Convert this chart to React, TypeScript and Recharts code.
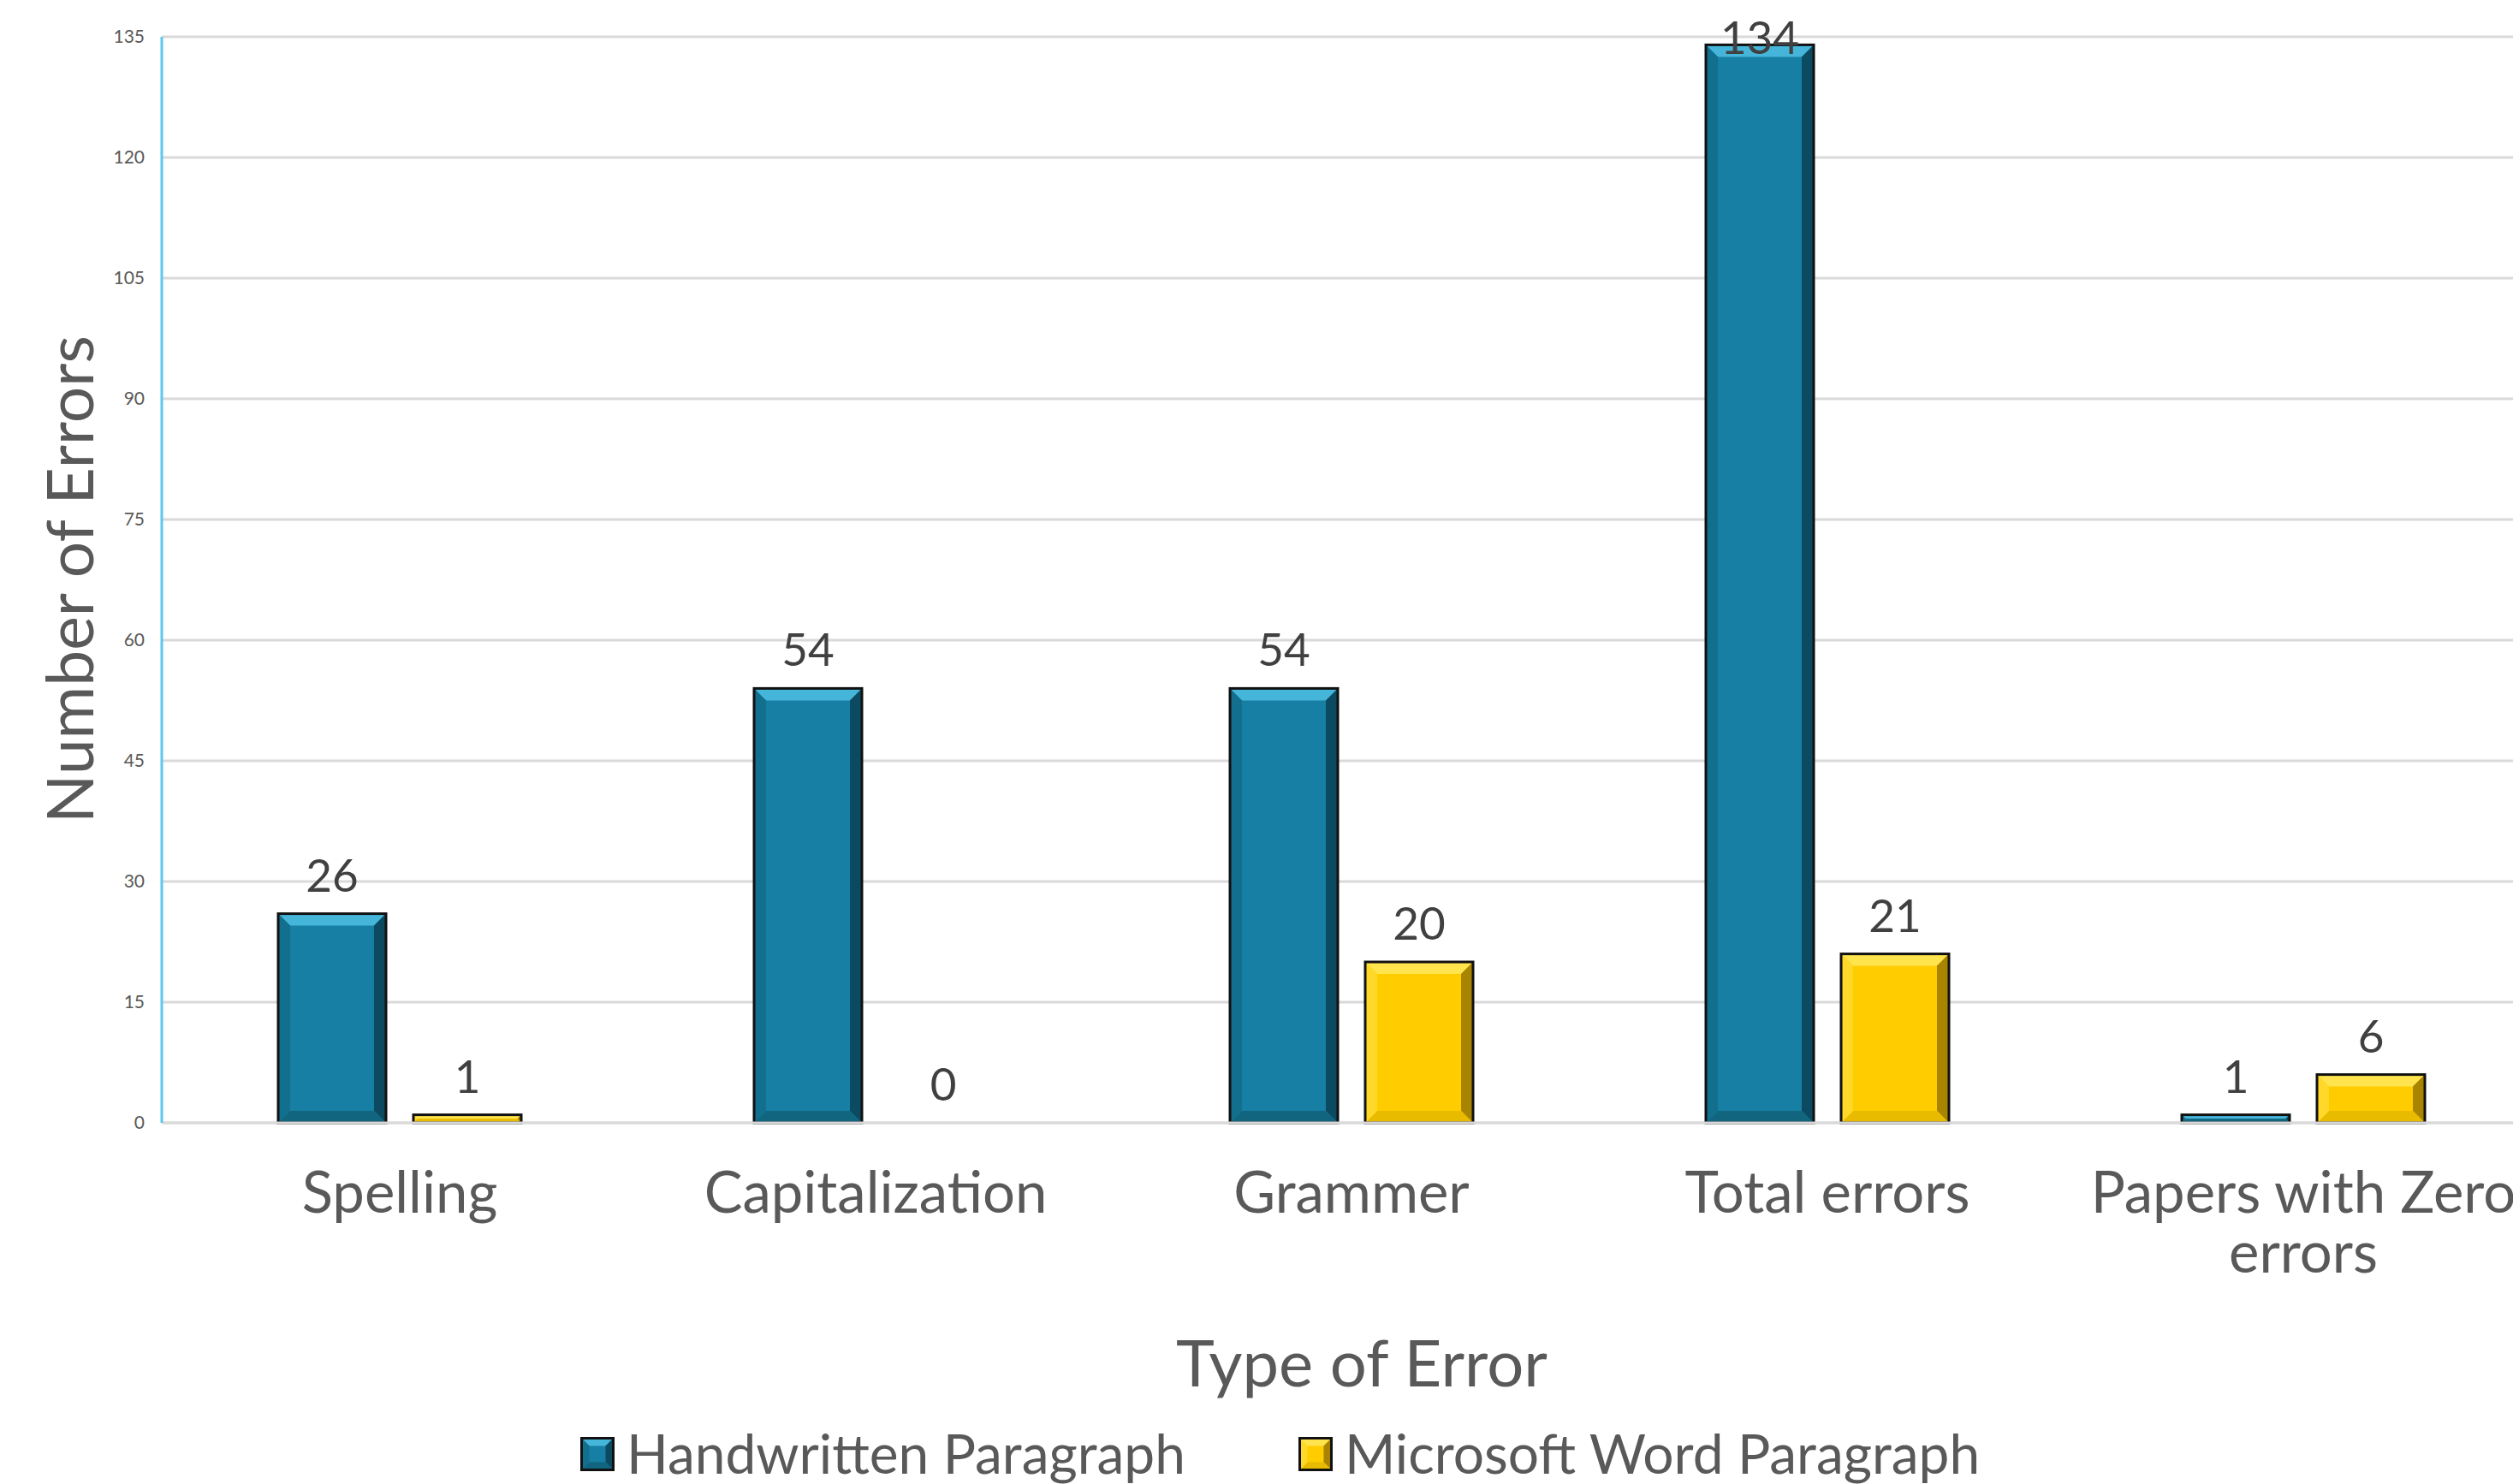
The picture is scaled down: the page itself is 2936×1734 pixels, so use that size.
import React from 'react';
import { BarChart, Bar, XAxis, YAxis, CartesianGrid, Legend, LabelList } from 'recharts';

// values
const categories = ['Spelling', 'Capitalization', 'Grammer', 'Total errors', 'Papers with Zero errors'];
const handwritten = [26, 54, 54, 134, 1];
const msWord = [1, 0, 20, 21, 6];
const yTicks = [0, 15, 30, 45, 60, 75, 90, 105, 120, 135];
const seriesNames = ['Handwritten Paragraph', 'Microsoft Word Paragraph'];

const data = categories.map((name, i) => ({ name, handwritten: handwritten[i], word: msWord[i] }));

const FONT = 'Lato, "Open Sans", sans-serif';
const TEXT = '#595959';

// bevel colours: base, top, right, bottom, left
const BLUE = ['#177FA3', '#45B6DA', '#0B4A60', '#11657F', '#126F8E'];
const YELLOW = ['#FFCC00', '#FFE44D', '#A88400', '#E8BB00', '#FFD829'];

const bevel = (x: number, y: number, w: number, h: number, c: string[], b0 = 14) => {
  if (!(h > 0) || !(w > 0)) return null;
  const b = Math.min(b0, h / 2, w / 2);
  return (
    <g>
      <rect x={x} y={y} width={w} height={h} fill={c[0]} />
      <polygon points={`${x},${y} ${x + w},${y} ${x + w - b},${y + b} ${x + b},${y + b}`} fill={c[1]} />
      <polygon points={`${x + w},${y} ${x + w},${y + h} ${x + w - b},${y + h - b} ${x + w - b},${y + b}`} fill={c[2]} />
      <polygon points={`${x},${y + h} ${x + w},${y + h} ${x + w - b},${y + h - b} ${x + b},${y + h - b}`} fill={c[3]} />
      <polygon points={`${x},${y} ${x},${y + h} ${x + b},${y + h - b} ${x + b},${y + b}`} fill={c[4]} />
      <rect x={x} y={y} width={w} height={h} fill="none" stroke="#111" strokeWidth={3} />
    </g>
  );
};

const BlueShape = (p: any) => bevel(p.x, p.y, p.width, p.height, BLUE);
const YellowShape = (p: any) => bevel(p.x, p.y, p.width, p.height, YELLOW);

const ValueLabel = (p: any) => {
  const cx = p.x + p.width / 2;
  const base = Math.max(p.y - 26, 63);
  return (
    <text x={cx} y={base} textAnchor="middle" fontSize={53} fill="#404040" fontFamily={FONT}>
      {p.value}
    </text>
  );
};

const wrap = (s: string, max: number) => {
  const out: string[] = [];
  let line = '';
  s.split(' ').forEach((w) => {
    const t = line ? line + ' ' + w : w;
    if (t.length > max && line) {
      out.push(line);
      line = w;
    } else line = t;
  });
  out.push(line);
  return out;
};

const XTick = ({ x, y, payload }: any) => {
  const lines = wrap(payload.value, 16);
  return (
    <text x={x} y={y} textAnchor="middle" fontSize={67} fill={TEXT} fontFamily={FONT}>
      {lines.map((l, i) => (
        <tspan key={i} x={x} dy={i === 0 ? 105 : 70}>
          {l}
        </tspan>
      ))}
    </text>
  );
};

const LegendIcon = ({ c }: { c: string[] }) => (
  <svg width={40} height={40} style={{ marginTop: 11, marginRight: 14, flex: 'none' }}>
    {bevel(1.5, 1.5, 37, 37, c, 9)}
  </svg>
);

const renderLegend = () => (
  <div style={{ display: 'flex', paddingLeft: 678, fontFamily: FONT, fontSize: 64, lineHeight: '60px', color: TEXT }}>
    <div style={{ display: 'flex', alignItems: 'flex-start', marginRight: 132 }}>
      <LegendIcon c={BLUE} />
      <span>{seriesNames[0]}</span>
    </div>
    <div style={{ display: 'flex', alignItems: 'flex-start' }}>
      <LegendIcon c={YELLOW} />
      <span>{seriesNames[1]}</span>
    </div>
  </div>
);

export default function App() {
  return (
    <div style={{ position: 'absolute', left: 0, top: 0, width: 2936, height: 1734, overflow: 'hidden', background: '#fff' }}>
      <BarChart
        width={2969}
        height={1734}
        data={data}
        margin={{ top: 43, right: 0, left: 0, bottom: 122 }}
        barGap={32}
        style={{ fontFamily: FONT }}
      >
        <CartesianGrid vertical={false} stroke="#D9D9D9" strokeWidth={3} />
        <XAxis
          dataKey="name"
          height={300}
          tickLine={false}
          tickSize={0}
          tickMargin={0}
          axisLine={{ stroke: '#D9D9D9', strokeWidth: 3 }}
          tick={<XTick />}
          interval={0}
          label={{
            content: () => (
              <text x={1591} y={1620} textAnchor="middle" fontSize={76} fill={TEXT} fontFamily={FONT}>
                Type of Error
              </text>
            ),
          }}
        />
        <YAxis
          width={189}
          domain={[0, 135]}
          ticks={yTicks}
          interval={0}
          tickLine={false}
          tickSize={6}
          tickMargin={14}
          axisLine={{ stroke: '#5BC8EC', strokeWidth: 3 }}
          tick={{ fontSize: 21, fill: TEXT, fontFamily: FONT }}
          label={{
            content: () => (
              <text
                x={80}
                y={677}
                transform="rotate(-90, 80, 677)"
                textAnchor="middle"
                dominantBaseline="central"
                fontSize={75}
                fill={TEXT}
                fontFamily={FONT}
              >
                Number of Errors
              </text>
            ),
          }}
        />
        <Legend
          layout="horizontal"
          verticalAlign="middle"
          align="center"
          content={renderLegend}
          wrapperStyle={{ position: 'absolute', top: 1668, left: 0, width: 2936 }}
        />
        <Bar dataKey="handwritten" name={seriesNames[0]} barSize={126} shape={BlueShape} isAnimationActive={false}>
          <LabelList dataKey="handwritten" content={ValueLabel} />
        </Bar>
        <Bar dataKey="word" name={seriesNames[1]} barSize={126} shape={YellowShape} isAnimationActive={false}>
          <LabelList dataKey="word" content={ValueLabel} />
        </Bar>
      </BarChart>
    </div>
  );
}
